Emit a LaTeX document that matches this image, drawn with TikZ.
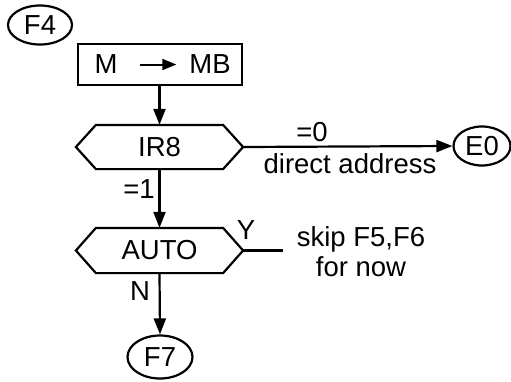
\documentclass[tikz,border=0pt]{standalone}
\usepackage{fontspec}
\setmainfont{Liberation Sans}
\usetikzlibrary{arrows.meta,shapes.geometric}
\begin{document}
\begin{tikzpicture}[x=1pt,y=-1pt,
  line width=2.2pt,
  every node/.style={font=\fontsize{27.5}{30}\selectfont, inner sep=0pt},
  term/.style={draw, ellipse, minimum width=#1, minimum height=39pt},
  procbox/.style={draw, minimum width=164pt, minimum height=41pt},
  hexhold/.style={minimum width=165pt, minimum height=42pt},
  arr/.style={-{Triangle[length=16pt,width=12pt]}},
]
\useasboundingbox (0,0) rectangle (511,381);

% terminals
\node[term=64pt] (f4) at (40,25) {F4};
\node[term=57pt] (e0) at (482,146) {E0};
\node[term=65pt, minimum height=43pt] (f7) at (160,357) {F7};

% process box
\node[procbox] (mbox) at (160,64.5) {};
\node (m) at (106,64.5) {M};
\node (mb) at (210,64.5) {MB};
\draw[-{Triangle[length=14pt,width=11pt]}, line width=2pt] ([xshift=21pt]m.east) -- ([xshift=-12pt]mb.west);

% decision IR8
\node[hexhold] (ir8) at (159.5,147) {IR8};
\draw ([xshift=20pt]ir8.north west) -- ([xshift=-20pt]ir8.north east) -- (ir8.east)
  -- ([xshift=-20pt]ir8.south east) -- ([xshift=20pt]ir8.south west) -- (ir8.west) -- cycle;

% decision AUTO
\node[hexhold, minimum height=43pt] (auto) at (159.5,250.5) {AUTO};
\draw ([xshift=20pt]auto.north west) -- ([xshift=-20pt]auto.north east) -- (auto.east)
  -- ([xshift=-20pt]auto.south east) -- ([xshift=20pt]auto.south west) -- (auto.west) -- cycle;

% connectors
\draw[arr] (mbox.south -| ir8.north) -- (ir8.north);
\draw[arr] (ir8.south) -- (auto.north);
\draw[arr] (auto.south) -- (f7.north);
\draw[arr] (ir8.east) -- (e0.west);
\coordinate (yend) at (283,250.5);
\draw (auto.east) -- (yend);

% labels
\node (eq1) at (139,189) {=1};
\node (nn) at (140,291) {N};
\node (yy) at (246,230) {Y};
\node (eq0) at (312,132) {=0};
\node (da) at (350,164) {direct address};
\node[align=center] (skip) at (361,252) {skip F5,F6\\for now};
\end{tikzpicture}
\end{document}
